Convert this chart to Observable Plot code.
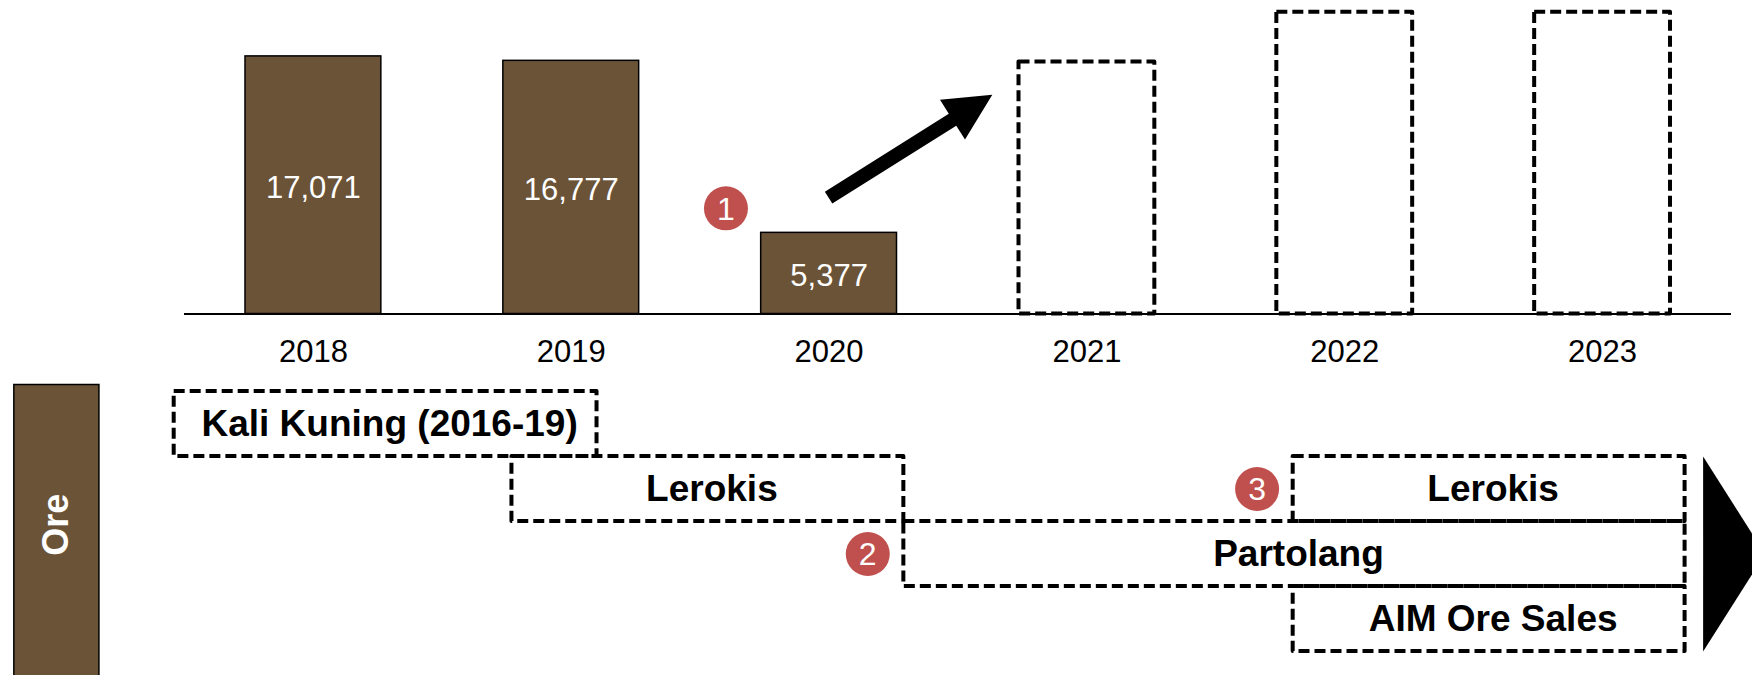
<!DOCTYPE html>
<html>
<head>
<meta charset="utf-8">
<script src="https://cdn.jsdelivr.net/npm/d3@7"></script>
<script src="https://cdn.jsdelivr.net/npm/@observablehq/plot@0.6"></script>
<style>
  html, body { margin: 0; padding: 0; background: #fff; }
  #chart { width: 1752px; height: 675px; overflow: hidden; }
  #chart svg { display: block; }
</style>
</head>
<body>
<div id="chart"></div>
<script>
// ---- data ----
const years = [2018, 2019, 2020, 2021, 2022, 2023];
const actualYears = [2018, 2019, 2020];
const actualValues = [17071, 16777, 5377];
const projectedYears = [2021, 2022, 2023];
const projectedValues = [16700, 20000, 20000];   // unlabelled outline bars (estimated)

// timeline of ore sources (fractional years)
const projectNames = ["Kali Kuning (2016-19)", "Lerokis", "Lerokis", "Partolang", "AIM Ore Sales"];
const projectStart = [2017.46, 2018.77, 2021.80, 2020.29, 2021.80];
const projectEnd   = [2019.10, 2020.29, 2023.32, 2023.32, 2023.32];
const projectRow   = [0, 1, 1, 2, 3];

// row header
const rowHeader = ["Ore"];
const rowHeaderX = [2016.84, 2017.17];
const rowHeaderY = [-0.1, 4.5];

// numbered markers
const markerTop = [{label: "1", x: 2019.60, y: 7000}];
const markerBottom = [{label: "2", x: 2020.15, y: 2.5}, {label: "3", x: 2021.66, y: 1.5}];

// growth arrow (data coordinates)
const arrowFrom = {x: 2020.0, y: 7680};
const arrowTo = {x: 2020.635, y: 14500};

// continuation triangle
const triangle = [{x: 2023.39, y: 1}, {x: 2023.39, y: 4}, {x: 2023.63, y: 2.5}];

// ---- styles ----
const brown = "#6b5337";
const red = "#c0504d";
const font = "'Liberation Sans', Arial, sans-serif";

const actual = actualYears.map((y, i) => ({year: y, value: actualValues[i]}));
const projected = projectedYears.map((y, i) => ({year: y, value: projectedValues[i]}));
const projects = projectNames.map((n, i) => ({name: n, start: projectStart[i], end: projectEnd[i], row: projectRow[i]}));

const xScale = {type: "linear", domain: [2017.5, 2023.5]};
const W = 1752;

const arrowMark = (index, scales) => {
  const {x, y} = scales;
  const x0 = x(arrowFrom.x), y0 = y(arrowFrom.y), x1 = x(arrowTo.x), y1 = y(arrowTo.y);
  const dx = x1 - x0, dy = y1 - y0, L = Math.hypot(dx, dy);
  const ux = dx / L, uy = dy / L, nx = -uy, ny = ux;
  const sh = 7, head = 47, hw = 23.5;
  const bx = x1 - ux * head, by = y1 - uy * head;
  const pts = [
    [x0 + nx * sh, y0 + ny * sh],
    [bx + nx * sh, by + ny * sh],
    [bx + nx * hw, by + ny * hw],
    [x1, y1],
    [bx - nx * hw, by - ny * hw],
    [bx - nx * sh, by - ny * sh],
    [x0 - nx * sh, y0 - ny * sh]
  ];
  return d3.create("svg:path")
    .attr("d", "M" + pts.map(p => p.join(",")).join("L") + "Z")
    .attr("fill", "black")
    .node();
};

const topPlot = Plot.plot({
  width: W,
  height: 375,
  marginLeft: 184,
  marginRight: 21,
  marginTop: 11.7,
  marginBottom: 61.5,
  style: {fontFamily: font, background: "white"},
  x: {...xScale, axis: null},
  y: {domain: [0, 20000], axis: null},
  marks: [
    Plot.rect(actual, {x1: d => d.year - 0.5, x2: d => d.year + 0.5, y1: 0, y2: "value",
      insetLeft: 61, insetRight: 61, fill: brown, stroke: "black", strokeWidth: 1.5}),
    Plot.rect(projected, {x1: d => d.year - 0.5, x2: d => d.year + 0.5, y1: 0, y2: "value",
      insetLeft: 61, insetRight: 61, fill: "none", stroke: "black", strokeWidth: 4,
      strokeDasharray: "11,5", strokeLinejoin: "round"}),
    Plot.ruleY([0], {stroke: "black", strokeWidth: 2}),
    Plot.text(actual, {x: "year", y: d => d.value / 2, text: d => d3.format(",")(d.value),
      fill: "white", fontSize: 31, dy: 3}),
    Plot.text(years, {x: d => d, y: 0, text: d => String(d), fill: "black", fontSize: 31, dy: 38.5}),
    Plot.dot(markerTop, {x: "x", y: "y", r: 22, fill: red, stroke: "none"}),
    Plot.text(markerTop, {x: "x", y: "y", text: "label", fill: "white", fontSize: 32, dy: 1}),
    arrowMark
  ]
});

const bottomPlot = Plot.plot({
  width: W,
  height: 300,
  marginLeft: 184,
  marginRight: 21,
  marginTop: 16,
  marginBottom: 24,
  style: {fontFamily: font, background: "white"},
  x: {...xScale, axis: null},
  y: {domain: [0, 4], range: [16, 276], axis: null},
  marks: [
    Plot.rect(rowHeader, {x1: rowHeaderX[0], x2: rowHeaderX[1], y1: rowHeaderY[0], y2: rowHeaderY[1],
      fill: brown, stroke: "black", strokeWidth: 1.5}),
    Plot.text(rowHeader, {x: (rowHeaderX[0] + rowHeaderX[1]) / 2, y: 2.05, text: d => d, rotate: -90,
      fill: "white", fontSize: 36, fontWeight: "bold"}),
    Plot.rect(projects, {x1: "start", x2: "end", y1: "row", y2: d => d.row + 1,
      fill: "none", stroke: "black", strokeWidth: 4, strokeDasharray: "11,5", strokeLinejoin: "round"}),
    Plot.text(projects, {x: d => (d.start + d.end) / 2, y: d => d.row + 0.5, text: "name",
      fill: "black", fontSize: 37, fontWeight: "bold", dx: 4}),
    Plot.dot(markerBottom, {x: "x", y: "y", r: 22, fill: red, stroke: "none"}),
    Plot.text(markerBottom, {x: "x", y: "y", text: "label", fill: "white", fontSize: 32, dy: 1}),
    Plot.line(triangle, {x: "x", y: "y", fill: "black", stroke: "none"})
  ]
});

const host = document.getElementById("chart");
host.appendChild(topPlot);
host.appendChild(bottomPlot);
</script>
</body>
</html>
